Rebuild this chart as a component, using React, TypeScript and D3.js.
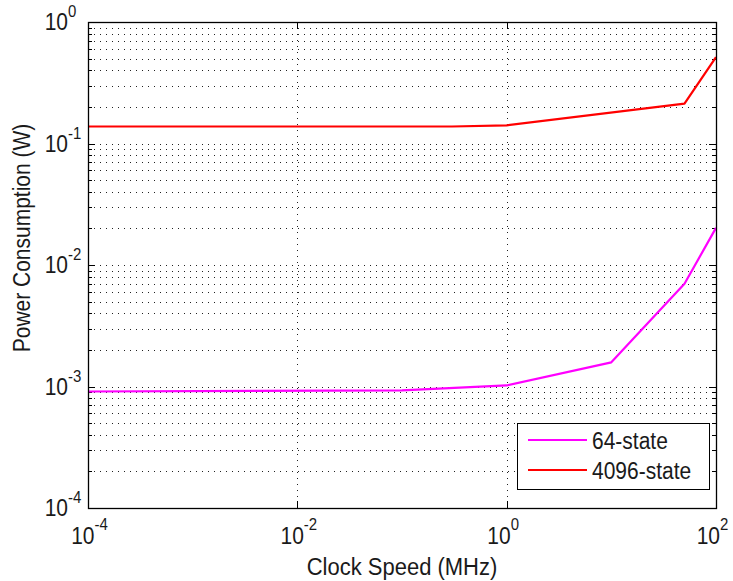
import React from 'react';
import * as d3 from 'd3';

// clock speed (MHz) and power (W)
const clock64 = [1e-4, 0.1, 1, 10, 50, 100];
const power64 = [9.1e-4, 9.3e-4, 1.02e-3, 1.58e-3, 7.0e-3, 0.0202];
const clock4096 = [1e-4, 0.3, 1, 50, 100];
const power4096 = [0.138, 0.138, 0.141, 0.213, 0.515];

const xTickExps = [-4, -2, 0, 2];
const yTickExps = [-4, -3, -2, -1, 0];

const series = [
  { name: '64-state', color: '#ff00ff', xs: clock64, ys: power64 },
  { name: '4096-state', color: '#ff0000', xs: clock4096, ys: power4096 },
];

const W = 733, H = 581;
const left = 88, right = 716, top = 22, bottom = 508;
const font = '"Liberation Sans", Arial, sans-serif';
const sy = 1.12; // the picture's text is a bit stretched vertically

function T(props: { x: number; y: number; size: number; anchor?: string; rotate?: boolean; children: any }) {
  const { x, y, size, anchor, rotate, children } = props;
  const tr = rotate
    ? `translate(${x},${y}) rotate(-90) scale(1,${sy})`
    : `translate(${x},${y}) scale(1,${sy})`;
  return (
    <text transform={tr} fontSize={size} textAnchor={anchor || 'start'} fill="#1a1a1a">
      {children}
    </text>
  );
}

export default function App() {
  const x = d3.scaleLog().domain([1e-4, 100]).range([left, right]);
  const y = d3.scaleLog().domain([1e-4, 1]).range([bottom, top]);

  const minorY: number[] = [];
  for (let e = -4; e < 0; e++) {
    for (let m = 2; m <= 9; m++) minorY.push(m * Math.pow(10, e));
  }

  const line = d3.line<[number, number]>()
    .x(d => x(d[0]))
    .y(d => y(d[1]));

  const legX = 517, legY = 423, legW = 192, legH = 66;

  return (
    <svg width={W} height={H} style={{ position: 'absolute', left: 0, top: 0, background: '#fff' }}
      fontFamily={font}>
      <rect x={0} y={0} width={W} height={H} fill="#fff" />

      {/* grid */}
      <g stroke="#222" strokeWidth={1} strokeDasharray="1,5" fill="none">
        {minorY.concat(yTickExps.slice(1, -1).map(e => Math.pow(10, e))).map((v, i) => (
          <line key={'gy' + i} x1={left} x2={right} y1={Math.round(y(v)) + 0.5} y2={Math.round(y(v)) + 0.5} />
        ))}
        {xTickExps.slice(1, -1).map(e => (
          <line key={'gx' + e} x1={Math.round(x(Math.pow(10, e))) + 0.5} x2={Math.round(x(Math.pow(10, e))) + 0.5} y1={top} y2={bottom} />
        ))}
      </g>

      {/* ticks */}
      <g stroke="#000" strokeWidth={1}>
        {minorY.map((v, i) => {
          const yy = Math.round(y(v)) + 0.5;
          return (
            <g key={'my' + i}>
              <line x1={left} x2={left + 4} y1={yy} y2={yy} />
              <line x1={right} x2={right - 4} y1={yy} y2={yy} />
            </g>
          );
        })}
        {yTickExps.map(e => {
          const yy = Math.round(y(Math.pow(10, e))) + 0.5;
          return (
            <g key={'ty' + e}>
              <line x1={left} x2={left + 7} y1={yy} y2={yy} />
              <line x1={right} x2={right - 7} y1={yy} y2={yy} />
            </g>
          );
        })}
        {xTickExps.map(e => {
          const xx = Math.round(x(Math.pow(10, e))) + 0.5;
          return (
            <g key={'tx' + e}>
              <line x1={xx} x2={xx} y1={bottom} y2={bottom - 7} />
              <line x1={xx} x2={xx} y1={top} y2={top + 7} />
            </g>
          );
        })}
      </g>

      {/* data */}
      {series.map(s => (
        <path key={s.name} d={line(s.xs.map((v, i) => [v, s.ys[i]]) as [number, number][]) || ''}
          fill="none" stroke={s.color} strokeWidth={2.2} strokeLinejoin="round" />
      ))}

      <rect x={left + 0.5} y={top + 0.5} width={right - left} height={bottom - top}
        fill="none" stroke="#000" strokeWidth={1.3} />

      {/* tick labels */}
      {yTickExps.map(e => {
        const yy = y(Math.pow(10, e));
        return (
          <g key={'ly' + e}>
            <T x={68} y={yy + 8} size={21} anchor="end">10</T>
            <T x={68} y={yy - 5} size={15}>{String(e)}</T>
          </g>
        );
      })}
      {xTickExps.map(e => {
        const xx = x(Math.pow(10, e));
        const expW = e < 0 ? 13 : 8;
        return (
          <g key={'lx' + e}>
            <T x={xx + expW / 2} y={544} size={21} anchor="end">10</T>
            <T x={xx + expW / 2} y={530} size={15}>{String(e)}</T>
          </g>
        );
      })}

      {/* axis labels */}
      <T x={(left + right) / 2} y={575} size={22} anchor="middle">Clock Speed (MHz)</T>
      <T x={30} y={238} size={21} anchor="middle" rotate>Power Consumption (W)</T>

      {/* legend */}
      <rect x={legX + 0.5} y={legY + 0.5} width={legW} height={legH} fill="#fff" stroke="#000" strokeWidth={1} />
      {series.map((s, i) => (
        <g key={'leg' + s.name}>
          <line x1={legX + 11} x2={legX + 70} y1={legY + 17 + i * 30} y2={legY + 17 + i * 30} stroke={s.color} strokeWidth={2.2} />
          <T x={legX + 75} y={legY + 26 + i * 30} size={21}>{s.name}</T>
        </g>
      ))}
    </svg>
  );
}
